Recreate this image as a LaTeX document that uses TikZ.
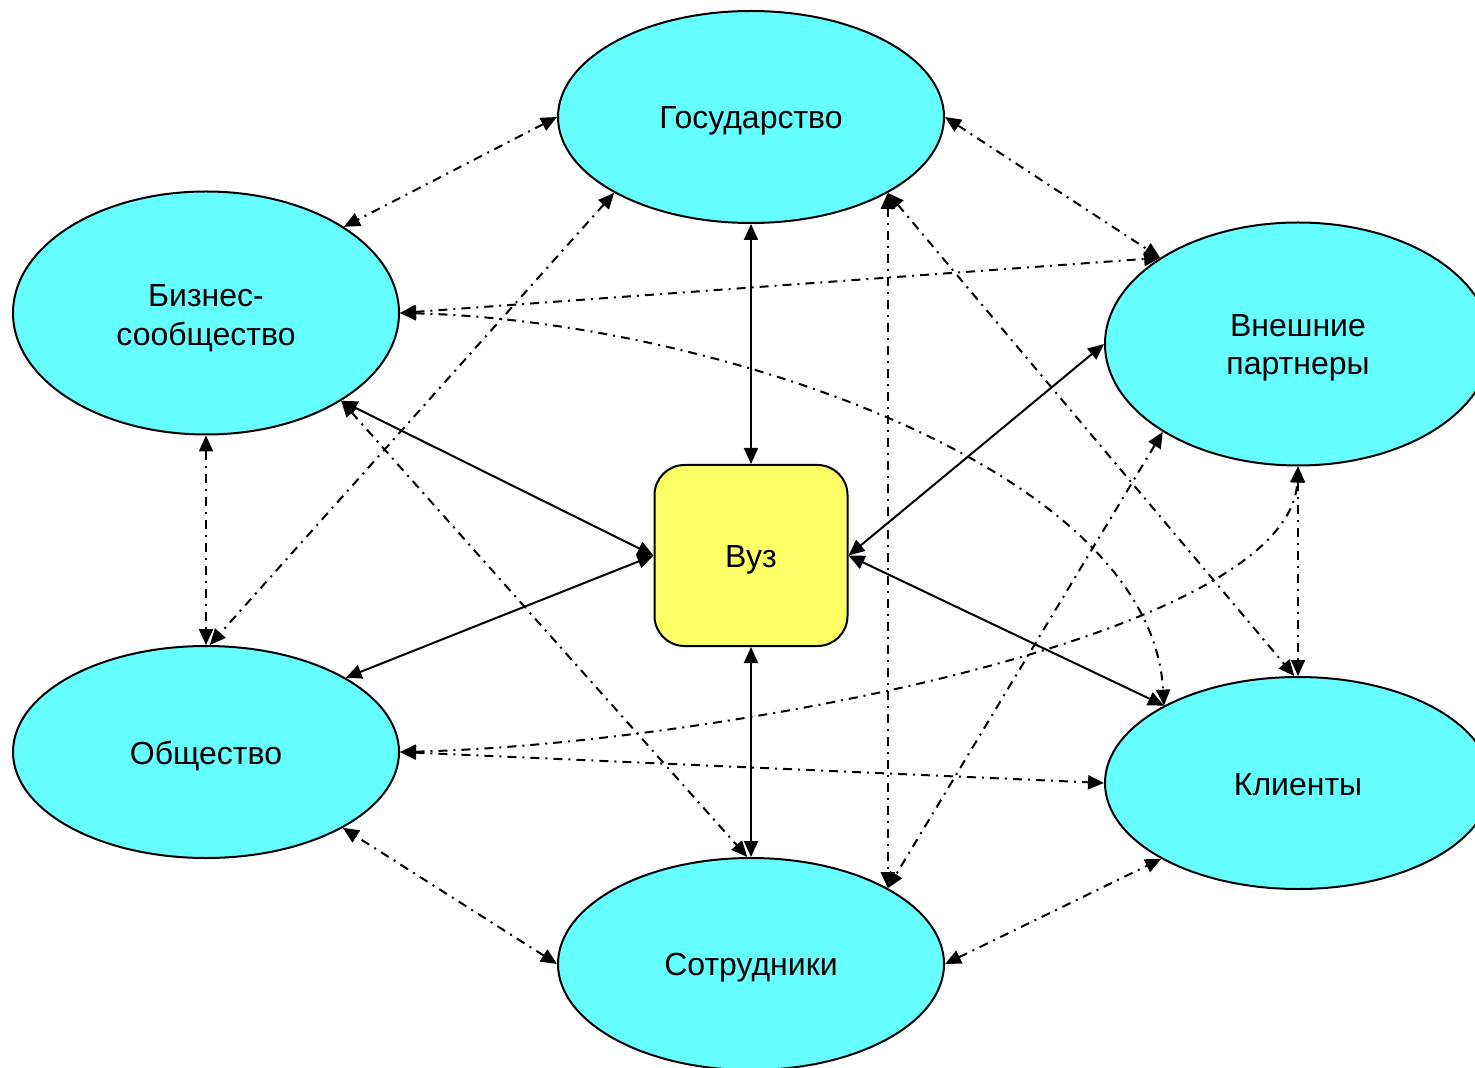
\documentclass[tikz,border=0pt]{standalone}
\usepackage{fontspec}
\setmainfont{Liberation Sans}
\usetikzlibrary{shapes.geometric,arrows.meta}
\definecolor{cyanfill}{HTML}{66FFFF}
\definecolor{yellowfill}{HTML}{FFFF66}
\begin{document}
\begin{tikzpicture}[x=0.5pt,y=-0.5pt,
  party/.style={ellipse, draw, line width=1pt, fill=cyanfill, minimum width=193pt, minimum height=106pt, inner sep=0pt},
  partybig/.style={party, minimum height=121.5pt},
  vuzbox/.style={draw, line width=1pt, fill=yellowfill, rounded corners=15pt, minimum width=96.5pt, minimum height=90.5pt, inner sep=0pt},
  lbl/.style={inner sep=0pt, align=center, font=\fontsize{16}{19.2}\selectfont},
  tip/.tip={Triangle[length=8pt,width=7pt]},
  solidlink/.style={line width=1pt, tip-tip},
  dashlink/.style={line width=1pt, dash pattern=on 4.5pt off 3pt on 1pt off 3pt, tip-tip},
]
\useasboundingbox (0,0) rectangle (1475,1068);
\clip (0,0) rectangle (1475,1068);

\node[party]    (gos)    at (751,117)  {};
\node[partybig] (biz)    at (206,313)  {};
\node[partybig] (vnesh)  at (1298,344) {};
\node[party]    (obsh)   at (206,752)  {};
\node[party]    (klient) at (1298,783) {};
\node[party]    (sotr)   at (751,964)  {};
\node[vuzbox]   (vuz)    at (751,555.5) {};

\node[lbl] (gosT)    at (751,121)  {Государство};
\node[lbl] (bizT)    at (206,318)  {Бизнес-\\сообщество};
\node[lbl] (vneshT)  at (1298,348) {Внешние\\партнеры};
\node[lbl] (obshT)   at (206,756)  {Общество};
\node[lbl] (klientT) at (1298,785) {Клиенты};
\node[lbl] (sotrT)   at (751,968)  {Сотрудники};
\node[lbl] (vuzT)    at (751,560) {Вуз};

% solid links from Вуз
\draw[solidlink] (vuz.north) -- (gos.270);
\draw[solidlink] (vuz.south) -- (sotr.90);
\draw[solidlink] (vuz.west) -- (biz.327.6);
\draw[solidlink] (vuz.west) -- (obsh.28.7);
\draw[solidlink] (vuz.east) -- (vnesh.180);
\draw[solidlink] (vuz.east) -- (klient.150.5);

% dash-dot links
\draw[dashlink] (gos.180) -- (biz.32);
\draw[dashlink] (gos.0) -- (vnesh.148);
\draw[dashlink] (sotr.180) -- (obsh.331);
\draw[dashlink] (sotr.0) -- (klient.209);
\draw[dashlink] (biz.270) -- (obsh.90);
\draw[dashlink] (vnesh.270) -- (klient.90);
\draw[dashlink] (biz.0) -- (vnesh.148);
\draw[dashlink] (obsh.0) -- (klient.180);
\draw[dashlink] (gos.209) -- (obsh.88);
\draw[dashlink] (gos.331) -- (sotr.29.5);
\draw[dashlink] (gos.331) -- (klient.92);
\draw[dashlink] (biz.327.6) -- (sotr.92);
\draw[dashlink] (vnesh.213) -- (sotr.29.5);
\draw[dashlink] (biz.0) .. controls (700,320) and (1150,463) .. (klient.150.5);
\draw[dashlink] (obsh.0) .. controls (700,745) and (1290,640) .. (vnesh.270);
\end{tikzpicture}
\end{document}
